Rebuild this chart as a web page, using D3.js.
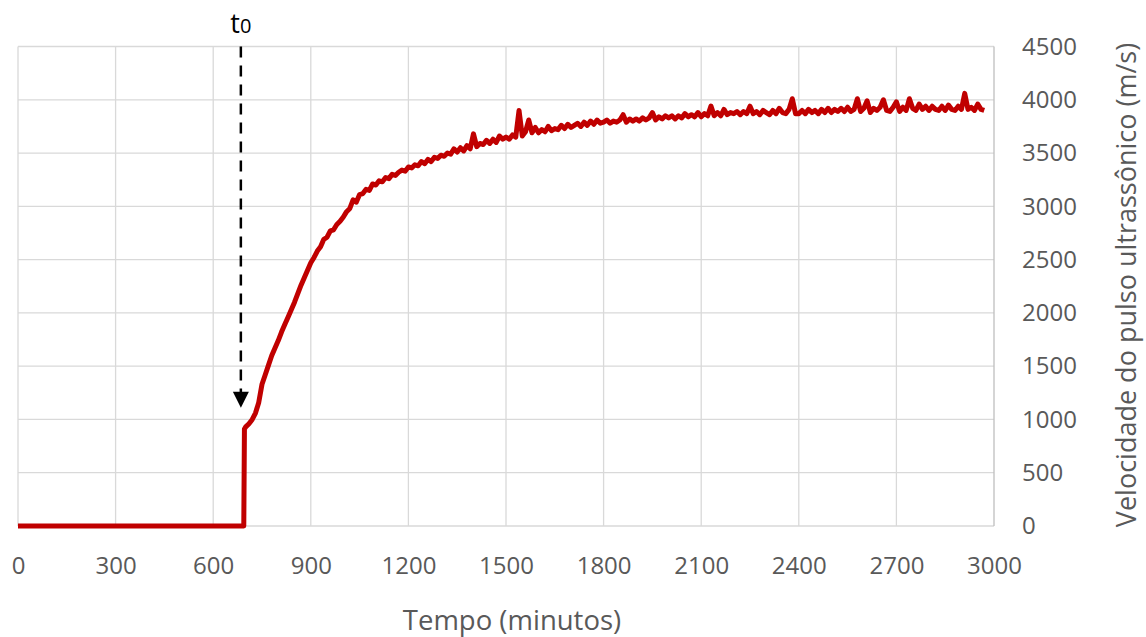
<!DOCTYPE html>
<html>
<head>
<meta charset="utf-8">
<script src="https://cdn.jsdelivr.net/npm/d3@7"></script>
<style>
  body { margin: 0; background: #fff; }
  text { font-family: "Open Sans", sans-serif; fill: #595959; }
</style>
</head>
<body>
<svg id="chart" width="1146" height="637"></svg>
<script>
// tick values
const xTicks = [0, 300, 600, 900, 1200, 1500, 1800, 2100, 2400, 2700, 3000];
const yTicks = [0, 500, 1000, 1500, 2000, 2500, 3000, 3500, 4000, 4500];

// series (minutes, m/s)
const tempo = [
  0, 694, 696,
  700, 710, 720, 730, 740, 750, 760, 770, 780, 790,
  800, 810, 820, 830, 840, 850, 860, 870, 880, 890,
  900, 910, 920, 930, 940, 950, 960, 970, 980, 990,
  1000, 1010, 1020, 1030, 1040, 1050, 1060, 1070, 1080, 1090,
  1100, 1110, 1120, 1130, 1140, 1150, 1160, 1170, 1180, 1190,
  1200, 1210, 1220, 1230, 1240, 1250, 1260, 1270, 1280, 1290,
  1300, 1310, 1320, 1330, 1340, 1350, 1360, 1370, 1380, 1390,
  1400, 1410, 1420, 1430, 1440, 1450, 1460, 1470, 1480, 1490,
  1500, 1510, 1520, 1530, 1540, 1550, 1560, 1570, 1580, 1590,
  1600, 1610, 1620, 1630, 1640, 1650, 1660, 1670, 1680, 1690,
  1700, 1710, 1720, 1730, 1740, 1750, 1760, 1770, 1780, 1790,
  1800, 1810, 1820, 1830, 1840, 1850, 1860, 1870, 1880, 1890,
  1900, 1910, 1920, 1930, 1940, 1950, 1960, 1970, 1980, 1990,
  2000, 2010, 2020, 2030, 2040, 2050, 2060, 2070, 2080, 2090,
  2100, 2110, 2120, 2130, 2140, 2150, 2160, 2170, 2180, 2190,
  2200, 2210, 2220, 2230, 2240, 2250, 2260, 2270, 2280, 2290,
  2300, 2310, 2320, 2330, 2340, 2350, 2360, 2370, 2380, 2390,
  2400, 2410, 2420, 2430, 2440, 2450, 2460, 2470, 2480, 2490,
  2500, 2510, 2520, 2530, 2540, 2550, 2560, 2570, 2580, 2590,
  2600, 2610, 2620, 2630, 2640, 2650, 2660, 2670, 2680, 2690,
  2700, 2710, 2720, 2730, 2740, 2750, 2760, 2770, 2780, 2790,
  2800, 2810, 2820, 2830, 2840, 2850, 2860, 2870, 2880, 2890,
  2900, 2910, 2920, 2930, 2940, 2950, 2960, 2970
];
const velocidade = [
  0, 0, 910,
  930, 960, 1000, 1060, 1160, 1330, 1420, 1510, 1600, 1670,
  1740, 1820, 1890, 1960, 2030, 2100, 2180, 2260, 2330, 2400,
  2470, 2520, 2580, 2620, 2690, 2710, 2770, 2780, 2830, 2860,
  2900, 2950, 2980, 3060, 3040, 3110, 3120, 3160, 3150, 3210,
  3200, 3240, 3230, 3270, 3260, 3300, 3290, 3320, 3340, 3330,
  3370, 3360, 3390, 3380, 3420, 3400, 3440, 3420, 3460, 3450,
  3480, 3470, 3500, 3490, 3540, 3510, 3550, 3520, 3570, 3540,
  3680, 3560, 3590, 3580, 3620, 3590, 3630, 3600, 3660, 3630,
  3650, 3630, 3670, 3650, 3900, 3660, 3700, 3810, 3690, 3740,
  3690, 3720, 3700, 3750, 3710, 3730, 3720, 3760, 3730, 3770,
  3740, 3760, 3780, 3750, 3790, 3760, 3800, 3770, 3810, 3780,
  3790, 3810, 3780, 3800, 3790, 3810, 3860, 3790, 3820, 3800,
  3820, 3800, 3830, 3810, 3830, 3880, 3810, 3840, 3820, 3850,
  3830, 3850, 3820, 3850, 3830, 3870, 3840, 3860, 3840, 3880,
  3840, 3870, 3850, 3940, 3850, 3880, 3850, 3910, 3860, 3880,
  3870, 3890, 3860, 3890, 3870, 3940, 3870, 3890, 3860, 3900,
  3880, 3860, 3900, 3870, 3920, 3880, 3870, 3910, 4010, 3870,
  3870, 3900, 3870, 3910, 3880, 3900, 3870, 3910, 3880, 3920,
  3880, 3910, 3890, 3920, 3890, 3930, 3890, 3910, 4010, 3890,
  3920, 3990, 3880, 3920, 3900, 3930, 4000, 3900, 3890, 3930,
  3980, 3890, 3930, 3900, 4010, 3920, 3900, 3960, 3910, 3940,
  3900, 3940, 3910, 3900, 3940, 3900, 3950, 3910, 3900, 3940,
  3910, 4060, 3910, 3930, 3900, 3960, 3910, 3900
];

// annotation t0
const t0Tempo = 685;
const t0Seta = 1110;

const svg = d3.select("#chart");

const x = d3.scaleLinear().domain([0, 3000]).range([18, 994]);
const y = d3.scaleLinear().domain([0, 4500]).range([526, 46.5]);

// grid
svg.append("g")
  .selectAll("line")
  .data(yTicks)
  .enter()
  .append("line")
  .attr("x1", x(0))
  .attr("x2", x(3000))
  .attr("y1", d => y(d))
  .attr("y2", d => y(d))
  .attr("stroke", "#d9d9d9")
  .attr("stroke-width", 1.3);

svg.append("g")
  .selectAll("line")
  .data(xTicks.slice(0, -1))
  .enter()
  .append("line")
  .attr("x1", d => x(d))
  .attr("x2", d => x(d))
  .attr("y1", y(0))
  .attr("y2", y(4500))
  .attr("stroke", "#d9d9d9")
  .attr("stroke-width", 1.3);

// right axis line
svg.append("line")
  .attr("x1", x(3000))
  .attr("x2", x(3000))
  .attr("y1", y(0))
  .attr("y2", y(4500))
  .attr("stroke", "#bfbfbf")
  .attr("stroke-width", 1.3);

// axes
const gx = svg.append("g")
  .attr("transform", "translate(0," + y(0) + ")")
  .call(d3.axisBottom(x).tickValues(xTicks).tickSize(0).tickPadding(31).tickFormat(d3.format("d")));
gx.select(".domain").remove();
gx.selectAll("text").attr("font-size", 24).attr("font-family", null).attr("fill", "#595959");

const gy = svg.append("g")
  .attr("transform", "translate(" + x(3000) + ",0)")
  .call(d3.axisRight(y).tickValues(yTicks).tickSize(0).tickPadding(28).tickFormat(d3.format("d")));
gy.select(".domain").remove();
gy.selectAll("text").attr("font-size", 24).attr("font-family", null).attr("fill", "#595959");

// titles
svg.append("text")
  .attr("x", 512)
  .attr("y", 630)
  .attr("text-anchor", "middle")
  .attr("font-size", 27.5)
  .text("Tempo (minutos)");

svg.append("text")
  .attr("transform", "translate(1136,285) rotate(-90)")
  .attr("text-anchor", "middle")
  .attr("font-size", 27)
  .text("Velocidade do pulso ultrassônico (m/s)");

// data line
const pts = tempo.map((t, i) => [t, velocidade[i]]);
svg.append("path")
  .datum(pts)
  .attr("fill", "none")
  .attr("stroke", "#c00000")
  .attr("stroke-width", 5)
  .attr("stroke-linejoin", "round")
  .attr("d", d3.line().x(d => x(d[0])).y(d => y(d[1])));

// t0 arrow
const ax = x(t0Tempo);
const tip = y(t0Seta);
svg.append("line")
  .attr("x1", ax)
  .attr("x2", ax)
  .attr("y1", y(4500))
  .attr("y2", tip - 14)
  .attr("stroke", "#000")
  .attr("stroke-width", 2.5)
  .attr("stroke-dasharray", "11,8");
svg.append("path")
  .attr("d", "M" + (ax - 8) + "," + (tip - 16) + "L" + (ax + 8) + "," + (tip - 16) + "L" + ax + "," + tip + "Z")
  .attr("fill", "#000");

const t0 = svg.append("text")
  .attr("x", ax)
  .attr("y", 33)
  .attr("text-anchor", "middle")
  .style("fill", "#000")
  .attr("font-size", 27);
t0.append("tspan").text("t");
t0.append("tspan").attr("font-size", 20).text("0");
</script>
</body>
</html>
